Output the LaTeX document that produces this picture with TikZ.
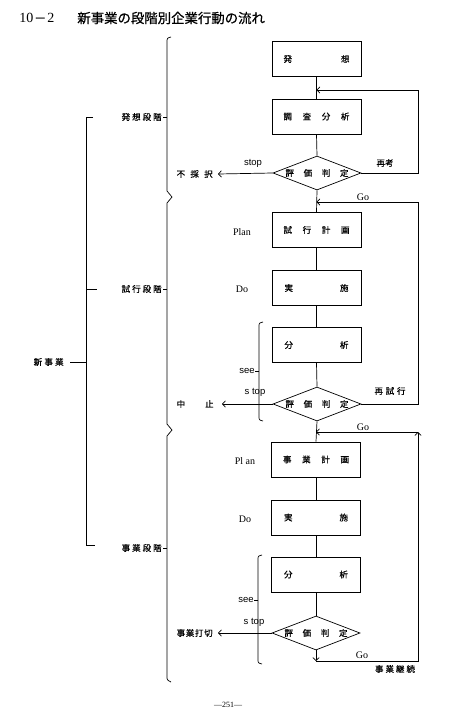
\documentclass[tikz,border=0pt]{standalone}
\usepackage{fontspec}
\setmainfont{Liberation Serif}
\newfontfamily\jp[FakeBold=0.5]{Noto Sans CJK JP}
\newfontfamily\jpt[FakeBold=0.8]{Noto Sans CJK JP}
\newfontfamily\sansf{Liberation Sans}
\usetikzlibrary{shapes.geometric,arrows.meta}
\begin{document}
\begin{tikzpicture}[x=1pt,y=-1pt,line width=0.7pt,
  box/.style={draw,minimum width=89pt,minimum height=35pt,inner sep=0pt,font=\jp\fontsize{8.5}{10}\selectfont},
  dia/.style={draw,diamond,aspect=2.6,minimum width=88pt,minimum height=34pt,inner sep=0pt,font=\jp\fontsize{8.5}{10}\selectfont},
  arr/.style={-{Straight Barb[length=3pt,width=6.5pt]}},
  jl/.style={inner sep=0pt,font=\jp\fontsize{8.5}{10}\selectfont},
  el/.style={inner sep=0pt,font=\fontsize{10}{12}\selectfont},
  sl/.style={inner sep=0pt,font=\sansf\fontsize{9.5}{11}\selectfont}]
\fill[white] (0,0) rectangle (450,726);
\useasboundingbox (0,0) rectangle (450,726);
% title
\node[anchor=west,inner sep=0pt,font=\fontsize{14}{16}\selectfont] (t1) at (19,18) {10\kern1pt{\jp\fontsize{12}{12}\selectfont －}\kern1pt2};
\node[anchor=west,inner sep=0pt,font=\jpt\fontsize{13.4}{15}\selectfont] (t2) at (77,18) {新事業の段階別企業行動の流れ};
% main column
\node[box] (b1) at (316.5,59) {\hbox to 66pt{発\hfil 想}};
\node[box] (b2) at (316.5,116.5) {\hbox to 66pt{調\hfil 査\hfil 分\hfil 析}};
\node[dia] (d1) at (317,173) {\hbox to 63pt{評\hfil 価\hfil 判\hfil 定}};
\node[box] (b3) at (316.5,230) {\hbox to 66pt{試\hfil 行\hfil 計\hfil 画}};
\node[box] (b4) at (316.5,288) {\hbox to 64pt{実\hfil 施}};
\node[box] (b5) at (316.5,345) {\hbox to 64pt{分\hfil 析}};
\node[dia] (d2) at (317,404) {\hbox to 63pt{評\hfil 価\hfil 判\hfil 定}};
\node[box] (b6) at (316,459.5) {\hbox to 66pt{事\hfil 業\hfil 計\hfil 画}};
\node[box] (b7) at (316,517.5) {\hbox to 64pt{実\hfil 施}};
\node[box] (b8) at (316,574.5) {\hbox to 64pt{分\hfil 析}};
\node[dia] (d3) at (316,633) {\hbox to 63pt{評\hfil 価\hfil 判\hfil 定}};
\draw (b1.south) -- (b2.north);
\draw (b2.south) -- (d1.north);
\draw (d1.south) -- (b3.north);
\draw (b3.south) -- (b4.north);
\draw (b4.south) -- (b5.north);
\draw (b5.south) -- (d2.north);
\draw (d2.south) -- (b6.north);
\draw (b6.south) -- (b7.north);
\draw (b7.south) -- (b8.north);
\draw (b8.south) -- (d3.north);
% loops
\coordinate (r1) at (418,90); \coordinate (j1) at (316.5,90);
\draw[arr] (d1.east) -| (r1) -- (j1);
\node[jl] (l1) at (385,163) {再考};
\coordinate (r2) at (418,202); \coordinate (j2) at (316.5,202);
\draw[arr] (d2.east) -| (r2) -- (j2);
\node[jl] (l2) at (390,391) {\hbox to 31pt{再\hfil 試\hfil 行}};
\node[el] (g1) at (363,197) {Go};
\coordinate (c3a) at (316,661); \coordinate (c3b) at (418,432); \coordinate (j3) at (316,432);
\draw[arr] (d3.south) -- (c3a);
\draw[arr] (c3a) -| (c3b);
\draw[arr] (c3b) -- (j3);
\node[el] (g2) at (363,427) {Go};
\node[el] (g3) at (362,655) {Go};
\node[jl] (l3) at (395,669) {\hbox to 40pt{事\hfil 業\hfil 継\hfil 続}};
% left exits
\node[jl,anchor=east] (x1) at (213,174) {\hbox to 36pt{不\hfil 採\hfil 択}};
\draw[arr] (d1.west) -- ([xshift=5pt]x1.east);
\node[jl,anchor=east] (x2) at (214,404) {\hbox to 37pt{中\hfil 止}};
\draw[arr] (d2.west) -- ([xshift=8pt]x2.east);
\node[jl,anchor=east] (x3) at (213,633) {\hbox to 36pt{事\hfil 業\hfil 打\hfil 切}};
\draw[arr] (d3.west) -- ([xshift=5pt]x3.east);
% side labels
\node[sl] (s1) at (253,163) {stop};
\node[sl] (s2) at (255,392) {s top};
\node[sl] (s3) at (254,622) {s top};
\node[el] (p1) at (242,232) {Plan};
\node[el] (p2) at (245,461) {Pl an};
\node[el] (o1) at (242,289) {Do};
\node[el] (o2) at (245,519) {Do};
% small braces
\draw (263,322) .. controls (259,323) .. (259,327) -- (259,416) .. controls (259,420) .. (263,421);
\draw (259,371) -- (255,371);
\node[sl,anchor=east] (e1) at (255,371) {see};
\draw (262,555) .. controls (258,556) .. (258,560) -- (258,659) .. controls (258,663) .. (262,664);
\draw (258,600) -- (254,600);
\node[sl,anchor=east] (e2) at (254,600) {see};
% big braces
\draw (171,37) .. controls (167,38) .. (167,43) -- (167,191) -- (172,197) -- (167,203) -- (167,424) -- (172,430) -- (167,436) -- (167,676) .. controls (167,680) .. (171,682);
\draw (167,117) -- (163,117);
\draw (167,289) -- (163,289);
\draw (167,548) -- (163,548);
\node[jl,anchor=east] (ph1) at (162,117) {\hbox to 40pt{発\hfil 想\hfil 段\hfil 階}};
\node[jl,anchor=east] (ph2) at (162,289) {\hbox to 40pt{試\hfil 行\hfil 段\hfil 階}};
\node[jl,anchor=east] (ph3) at (162,548) {\hbox to 40pt{事\hfil 業\hfil 段\hfil 階}};
% new business bracket
\draw (93,117) -- (86,117) -- (86,545) -- (95,545);
\draw (86,289) -- (97,289);
\draw (86,362) -- (70,362);
\node[jl,anchor=east] (nb) at (64,362) {\hbox to 30pt{新\hfil 事\hfil 業}};
% page number
\node[inner sep=0pt,font=\fontsize{8}{9}\selectfont] (pg) at (228,705) {—251—};
\end{tikzpicture}
\end{document}
